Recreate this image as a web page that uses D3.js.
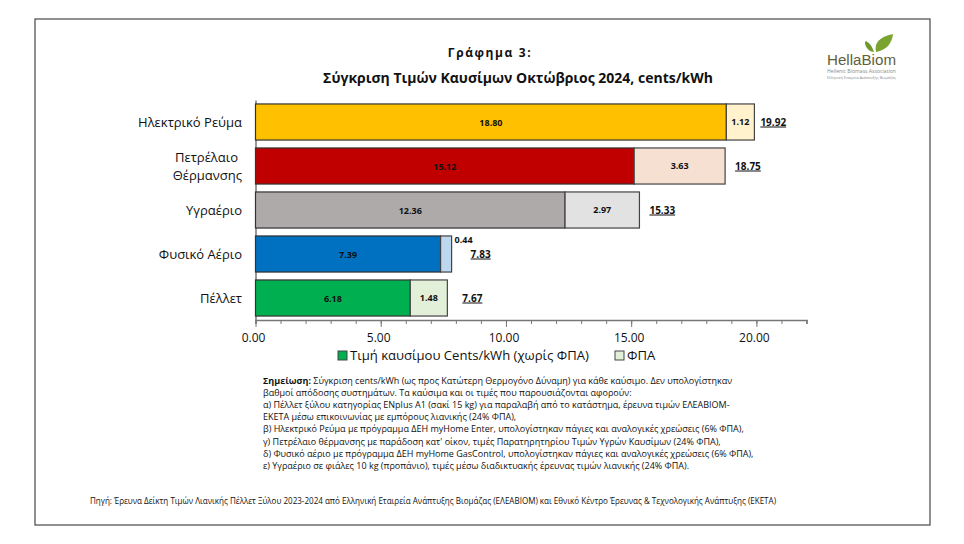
<!DOCTYPE html>
<html>
<head>
<meta charset="utf-8">
<script src="https://d3js.org/d3.v7.min.js"></script>
<style>
body { margin: 0; background: #fff; }
text { font-family: "Open Sans", sans-serif; fill: #111; }
</style>
</head>
<body>
<div id="chart"></div>
<script>
// Data
var categories = ["Ηλεκτρικό Ρεύμα", "Πετρέλαιο Θέρμανσης", "Υγραέριο", "Φυσικό Αέριο", "Πέλλετ"];
var fuelPrice = [18.80, 15.12, 12.36, 7.39, 6.18];
var vat = [1.12, 3.63, 2.97, 0.44, 1.48];
var totals = [19.92, 18.75, 15.33, 7.83, 7.67];
var xTicks = [0, 5, 10, 15, 20];

var legendLabels = ["Τιμή καυσίμου Cents/kWh (χωρίς ΦΠΑ)", "ΦΠΑ"];
var noteLead = "Σημείωση:";
var noteLines = [
  "Σύγκριση cents/kWh (ως προς Κατώτερη Θερμογόνο Δύναμη) για κάθε καύσιμο. Δεν υπολογίστηκαν",
  "βαθμοί απόδοσης συστημάτων. Τα καύσιμα και οι τιμές που παρουσιάζονται αφορούν:",
  "α) Πέλλετ ξύλου κατηγορίας ENplus A1 (σακί 15 kg) για παραλαβή από το κατάστημα, έρευνα τιμών ΕΛΕΑΒΙΟΜ-",
  "ΕΚΕΤΑ μέσω  επικοινωνίας με εμπόρους λιανικής (24% ΦΠΑ),",
  "β) Ηλεκτρικό Ρεύμα με πρόγραμμα ΔΕΗ myHome Enter, υπολογίστηκαν πάγιες και αναλογικές χρεώσεις (6% ΦΠΑ),",
  "γ) Πετρέλαιο θέρμανσης με παράδοση κατ' οίκον, τιμές Παρατηρητηρίου Τιμών Υγρών Καυσίμων (24% ΦΠΑ),",
  "δ) Φυσικό αέριο με πρόγραμμα ΔΕΗ myHome GasControl, υπολογίστηκαν πάγιες και αναλογικές χρεώσεις (6% ΦΠΑ),",
  "ε) Υγραέριο σε φιάλες 10 kg (προπάνιο), τιμές μέσω διαδικτυακής έρευνας τιμών λιανικής (24% ΦΠΑ)."
];
var sourceText = "Πηγή: Έρευνα Δείκτη Τιμών Λιανικής Πέλλετ Ξύλου 2023-2024 από Ελληνική Εταιρεία Ανάπτυξης Βιομάζας (ΕΛΕΑΒΙΟΜ) και Εθνικό Κέντρο Έρευνας & Τεχνολογικής Ανάπτυξης (ΕΚΕΤΑ)";

// Styling per bar
var fuelColors = ["#ffc000", "#c00000", "#aeaaaa", "#0070c0", "#00b050"];
var vatColors = ["#fff2cc", "#f6e0d2", "#e2e2e2", "#bdd7ee", "#e2f0d9"];
var totalGap = [6, 10, 10, 19, 15];

var svg = d3.select("#chart").append("svg")
  .attr("width", 964)
  .attr("height", 544);

svg.append("rect")
  .attr("width", 964).attr("height", 544).attr("fill", "#fff");

// outer frame
svg.append("rect")
  .attr("x", 35).attr("y", 19).attr("width", 895).attr("height", 506)
  .attr("fill", "none").attr("stroke", "#555").attr("stroke-width", 1.3);

// titles
svg.append("text")
  .attr("x", 490).attr("y", 57).attr("text-anchor", "middle")
  .attr("font-size", 12).attr("font-weight", 700).attr("letter-spacing", "1.6px")
  .text("Γράφημα 3:");
svg.append("text")
  .attr("x", 518).attr("y", 83).attr("text-anchor", "middle")
  .attr("font-size", 14).attr("font-weight", 700)
  .text("Σύγκριση Τιμών Καυσίμων Οκτώβριος 2024, cents/kWh");

// scales
var xScale = d3.scaleLinear().domain([0, 22]).range([255.5, 806.5]);
var yScale = d3.scaleBand().domain(categories).range([100, 320]).paddingInner(0.18).paddingOuter(0.09);

// axes
var bottomAxis = d3.axisBottom(xScale).tickValues(xTicks).tickFormat(d3.format(".2f")).tickSize(7).tickPadding(6);
var minorAxis = d3.axisBottom(xScale).tickValues(d3.range(0, 23)).tickFormat("").tickSize(4);
var leftAxis = d3.axisLeft(yScale).tickValues([]).tickSize(0);

var minorG = svg.append("g").attr("transform", "translate(0, 320)").call(minorAxis);
minorG.selectAll("line").attr("stroke", "#777");
minorG.select(".domain").attr("stroke", "#777").attr("stroke-width", 1.5);

var xAxisG = svg.append("g").attr("transform", "translate(0, 320)").call(bottomAxis);
xAxisG.select(".domain").remove();
xAxisG.selectAll("line").attr("stroke", "#777");
xAxisG.selectAll("text").attr("font-size", 12).attr("dx", -2.5)
  .style("font-family", "'Open Sans', sans-serif").attr("fill", "#222");

var yAxisG = svg.append("g").attr("transform", "translate(255.5, 0)").call(leftAxis);
yAxisG.select(".domain").attr("stroke", "#777").attr("stroke-width", 1.5);

// stacked bars
var fuelBars = svg.selectAll(".fuel").data(categories).enter().append("rect")
  .attr("class", "fuel")
  .attr("x", xScale(0))
  .attr("y", d => yScale(d))
  .attr("width", (d, i) => xScale(fuelPrice[i]) - xScale(0))
  .attr("height", yScale.bandwidth())
  .attr("fill", (d, i) => fuelColors[i])
  .attr("stroke", "#333").attr("stroke-width", 1.2);

var vatBars = svg.selectAll(".vat").data(categories).enter().append("rect")
  .attr("class", "vat")
  .attr("x", (d, i) => xScale(fuelPrice[i]))
  .attr("y", d => yScale(d))
  .attr("width", (d, i) => xScale(fuelPrice[i] + vat[i]) - xScale(fuelPrice[i]))
  .attr("height", yScale.bandwidth())
  .attr("fill", (d, i) => vatColors[i])
  .attr("stroke", "#444").attr("stroke-width", 1.2);

// value labels
svg.selectAll(".fuelLabel").data(categories).enter().append("text")
  .attr("x", (d, i) => xScale(fuelPrice[i] / 2))
  .attr("y", d => yScale(d) + yScale.bandwidth() / 2 + 3.5)
  .attr("text-anchor", "middle")
  .attr("font-size", 9).attr("font-weight", 700)
  .text((d, i) => fuelPrice[i].toFixed(2));

svg.selectAll(".vatLabel").data(categories).enter().append("text")
  .attr("x", (d, i) => i == 3 ? xScale(fuelPrice[i] + vat[i]) + 3 : xScale(fuelPrice[i] + vat[i] / 2))
  .attr("y", (d, i) => i == 3 ? yScale(d) + 7 : yScale(d) + yScale.bandwidth() / 2 + 3)
  .attr("text-anchor", (d, i) => i == 3 ? "start" : "middle")
  .attr("font-size", 9).attr("font-weight", 700)
  .text((d, i) => vat[i].toFixed(2));

svg.selectAll(".totalLabel").data(categories).enter().append("text")
  .attr("x", (d, i) => xScale(fuelPrice[i] + vat[i]) + totalGap[i])
  .attr("y", d => yScale(d) + yScale.bandwidth() / 2 + 3.5)
  .attr("font-size", 10).attr("font-weight", 700)
  .attr("text-decoration", "underline")
  .text((d, i) => totals[i].toFixed(2));

// category labels, the second one wraps on two lines
categories.forEach(function(c) {
  var label = svg.append("text")
    .attr("x", 242)
    .attr("y", yScale(c) + yScale.bandwidth() / 2 + 5)
    .attr("text-anchor", "end")
    .attr("font-size", 13)
    .attr("fill", "#222");
  if (c == "Πετρέλαιο Θέρμανσης") {
    label.attr("y", yScale(c) + yScale.bandwidth() / 2 - 4);
    label.append("tspan").attr("x", 238).text("Πετρέλαιο");
    label.append("tspan").attr("x", 242).attr("dy", 18).text("Θέρμανσης");
  } else {
    label.text(c);
  }
});

// legend
var legendG = svg.append("g");
legendG.append("rect").attr("x", 338).attr("y", 351).attr("width", 9).attr("height", 9)
  .attr("fill", fuelColors[4]).attr("stroke", "#444");
legendG.append("text").attr("x", 350).attr("y", 360).attr("font-size", 13.1).text(legendLabels[0]);
legendG.append("rect").attr("x", 615).attr("y", 351).attr("width", 9).attr("height", 9)
  .attr("fill", vatColors[4]).attr("stroke", "#444");
legendG.append("text").attr("x", 627).attr("y", 360).attr("font-size", 13.1).text(legendLabels[1]);

// note block
noteLines.forEach(function(line, i) {
  var t = svg.append("text")
    .attr("x", 263).attr("y", 384 + i * 12.1)
    .attr("font-size", 9).attr("fill", "#111");
  if (i == 0) {
    t.append("tspan").attr("font-weight", 700).text(noteLead + " ");
  }
  t.append("tspan").text(line);
});

// source
svg.append("text")
  .attr("x", 90).attr("y", 504)
  .attr("font-size", 8.06).attr("fill", "#222")
  .text(sourceText);

// logo
var logo = svg.append("g").attr("transform", "translate(827, 33)");
logo.append("path").attr("d", "M49 19 C47 10 52 4 66 1 C65 10 60 17 49 19 Z").attr("fill", "#7aa32f");
logo.append("path").attr("d", "M47 19 C45 14 44 11 39 8 C36 9 40 19 47 19 Z").attr("fill", "#6e9a2c");
logo.append("text").attr("x", 0).attr("y", 31.5).attr("font-size", 15.5)
  .style("fill", "#5f5f3c").style("font-family", "'Liberation Sans', sans-serif")
  .attr("textLength", 69).attr("lengthAdjust", "spacingAndGlyphs").text("HellaBiom");
logo.append("text").attr("x", 0).attr("y", 40).attr("font-size", 4.6)
  .style("fill", "#888").attr("textLength", 69).attr("lengthAdjust", "spacingAndGlyphs").text("Hellenic Biomass Association");
logo.append("text").attr("x", 0).attr("y", 46).attr("font-size", 4.2)
  .style("fill", "#888").attr("textLength", 69).attr("lengthAdjust", "spacingAndGlyphs").text("Ελληνική Εταιρεία Ανάπτυξης Βιομάζας");
</script>
</body>
</html>
